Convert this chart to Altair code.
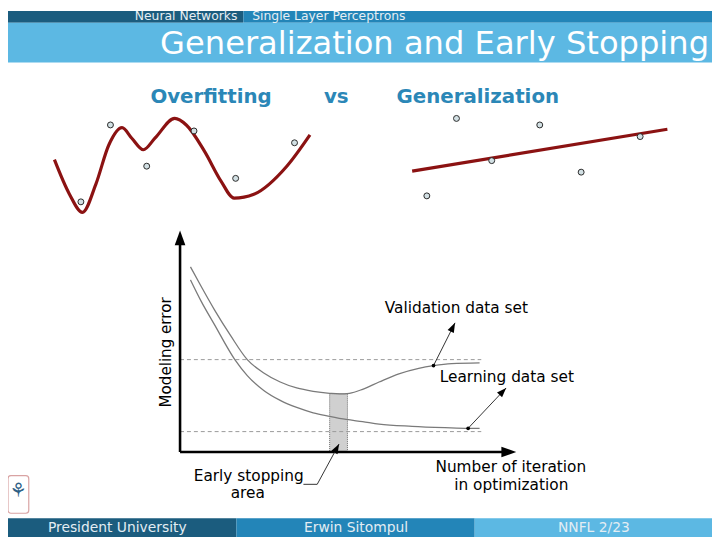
import altair as alt
import pandas as pd

# ---------------- data ----------------
# Overfitting panel (arbitrary units 0..10)
over_pts_x = [1.22, 2.37, 3.78, 5.62, 7.24, 9.53]
over_pts_y = [1.27, 8.34, 4.55, 7.79, 3.43, 6.70]
over_fit_x = [0.19, 0.77, 1.28, 1.80, 2.31, 2.82, 3.20, 3.65, 4.10, 4.87, 5.32, 6.03, 6.67, 7.18, 7.95, 9.23, 10.13]
over_fit_y = [5.15, 2.00, 0.30, 2.88, 6.52, 8.09, 7.12, 6.06, 7.12, 8.94, 8.34, 5.91, 3.18, 1.61, 1.97, 4.55, 7.43]

# Generalization panel
gen_pts_x = [0.80, 1.91, 3.23, 5.03, 6.58, 8.79]
gen_pts_y = [1.82, 8.94, 5.06, 8.34, 4.00, 7.27]
gen_fit_x = [0.25, 9.81]
gen_fit_y = [4.09, 7.94]

# Early stopping diagram (iteration 0..100, error 0..100)
iter_val = [3.1, 6.3, 10.2, 15.1, 20.0, 24.9, 29.8, 34.7, 39.6, 44.5, 47.4, 50.4, 54.3, 59.2, 65.1, 71.0, 75.4, 80.8, 89.1]
val_err = [83.6, 74.7, 64.3, 52.4, 41.7, 35.7, 31.6, 28.9, 27.4, 26.5, 26.2, 26.5, 28.3, 31.6, 35.3, 37.8, 39.0, 39.9, 40.2]
iter_learn = [3.1, 6.3, 10.2, 16.3, 20.0, 24.9, 29.8, 34.7, 39.6, 44.5, 49.4, 54.3, 59.2, 69.0, 78.8, 85.7, 89.1]
learn_err = [77.7, 68.0, 57.6, 41.7, 34.5, 27.8, 23.3, 20.1, 17.7, 16.1, 14.7, 13.7, 12.6, 11.6, 11.0, 10.7, 10.7]
val_level = 41.7
learn_level = 9.2
early_stop = [44.5, 49.8]
early_stop_top = 26.3

# ---------------- helpers ----------------
FONT = "DejaVu Sans"
one = pd.DataFrame({"k": [0]})

DARK = "#1b5c7e"
MID = "#2385b8"
LIGHT = "#5cb8e3"
RED = "#8b1212"


def scl(domain, rng):
    return alt.Scale(domain=domain, range=rng, nice=False, zero=False)


MX, MY = scl([0, 100], [174, 514]), scl([0, 100], [446, 222])
LX, LY = scl([0, 10], [42, 302]), scl([0, 10], [207, 97])
RX, RY = scl([0, 10], [402, 672]), scl([0, 10], [207, 97])


def box(x, x2, y, y2, color, **kw):
    return alt.Chart(one).mark_rect(color=color, **kw).encode(
        x=alt.value(x), x2=alt.value(x2), y=alt.value(y), y2=alt.value(y2))


def label(text, x, y, size, color="black", align="center", baseline="middle",
          weight="normal", angle=0):
    mk = dict(text=text, align=align, baseline=baseline, fontSize=size,
              font=FONT, color=color, fontWeight=weight)
    if angle:
        mk["angle"] = angle
    return alt.Chart(one).mark_text(**mk).encode(x=alt.value(x), y=alt.value(y))


def XD(v, s):
    return alt.XDatum(v, scale=s, type="quantitative", axis=None)


def YD(v, s):
    return alt.YDatum(v, scale=s, type="quantitative", axis=None)


def seg(x, y, x2, y2, color="black", width=1.0, dash=None, XS=MX, YS=MY):
    mk = dict(color=color, strokeWidth=width)
    if dash:
        mk["strokeDash"] = dash
    return alt.Chart(one).mark_rule(**mk).encode(
        x=XD(x, XS), y=YD(y, YS), x2=alt.X2Datum(x2), y2=alt.Y2Datum(y2))


ARROW = "M0,0L-0.36,1L0.36,1Z"


def head(x, y, angle, size, XS=MX, YS=MY):
    mk = dict(shape=ARROW, filled=True, color="black", size=size, opacity=1)
    if angle:
        mk["angle"] = angle
    return alt.Chart(one).mark_point(**mk).encode(x=XD(x, XS), y=YD(y, YS))


def curve(xs, ys, XS, YS, color, width, interp="monotone"):
    df = pd.DataFrame({"x": xs, "y": ys})
    return alt.Chart(df).mark_line(color=color, strokeWidth=width, interpolate=interp).encode(
        x=alt.X("x:Q", scale=XS, axis=None), y=alt.Y("y:Q", scale=YS, axis=None))


def dots(xs, ys, XS, YS):
    df = pd.DataFrame({"x": xs, "y": ys})
    return alt.Chart(df).mark_circle(color="#d2e0e4", stroke="#2a2a2a", strokeWidth=1,
                                     opacity=1, size=36).encode(
        x=alt.X("x:Q", scale=XS, axis=None), y=alt.Y("y:Q", scale=YS, axis=None))


layers = []

# header / title / footer bars
layers += [
    box(0, 238, 0, 12, DARK),
    box(238, 712, 0, 12, MID),
    box(0, 712, 12, 52, LIGHT),
    box(0, 231, 513, 532, DARK),
    box(231, 472, 513, 532, MID),
    box(472, 712, 513, 532, LIGHT),
]
layers += [
    label("Neural Networks", 232, 9.5, 12.5, color="#e6eef3", align="right", baseline="alphabetic"),
    label("Single Layer Perceptrons", 247, 9.5, 12.5, color="#e6eef3", align="left", baseline="alphabetic"),
    label("Generalization and Early Stopping", 709, 44, 32.5, color="white", align="right", baseline="alphabetic"),
    label("President University", 110.5, 523, 14, color="#e3edf3"),
    label("Erwin Sitompul", 352, 523, 14, color="#e3edf3"),
    label("NNFL 2/23", 592.5, 523, 14, color="#e3edf3"),
]

# logo placeholder
layers += [
    box(0, 21, 470, 508, "white", stroke="#d9a3a3", strokeWidth=1.2, cornerRadius=3),
    label("⚘", 10.5, 486, 20, color="#2e5f86"),
]

# subtitle texts
layers += [
    label("Overfitting", 144, 93, 20, color="#2b87b7", align="left", baseline="alphabetic", weight="bold"),
    label("vs", 332, 93, 20, color="#2b87b7", align="center", baseline="alphabetic", weight="bold"),
    label("Generalization", 393, 93, 20, color="#2b87b7", align="left", baseline="alphabetic", weight="bold"),
]

# small panels
layers += [
    curve(over_fit_x, over_fit_y, LX, LY, RED, 3.2),
    dots(over_pts_x, over_pts_y, LX, LY),
    curve(gen_fit_x, gen_fit_y, RX, RY, RED, 3.2, interp="linear"),
    dots(gen_pts_x, gen_pts_y, RX, RY),
]

# main diagram
band = alt.Chart(one).mark_rect(fill="#d0d0d0", stroke="#6e6e6e", strokeWidth=1,
                                strokeDash=[1, 1]).encode(
    x=XD(early_stop[0], MX), x2=alt.X2Datum(early_stop[1]),
    y=YD(0, MY), y2=alt.Y2Datum(early_stop_top))
layers += [
    band,
    seg(0, val_level, 89.6, val_level, color="#9a9a9a", width=1, dash=[4, 3]),
    seg(0, learn_level, 89.6, learn_level, color="#9a9a9a", width=1, dash=[4, 3]),
    curve(iter_val, val_err, MX, MY, "#7a7a7a", 1.3),
    curve(iter_learn, learn_err, MX, MY, "#7a7a7a", 1.3),
    # axes with arrows
    seg(0, 0, 0, 96, width=2.6),
    seg(0, 0, 96, 0, width=2.6),
    head(0, 100, 0, 900),
    head(100, 0, 90, 900),
    # annotation arrows
    seg(75.4, 39.0, 81.8, 58.3, color="#333333", width=1),
    head(81.8, 58.3, 26.6, 380),
    seg(85.7, 10.7, 97.0, 28.9, color="#333333", width=1),
    head(97.0, 28.9, 43.3, 380),
    seg(36.7, -14.6, 40.8, -14.6, color="#333333", width=1),
    seg(40.8, -14.6, 47.3, 3.6, color="#333333", width=1),
    head(47.3, 3.6, 28.4, 380),
]
pt = pd.DataFrame({"x": [75.4, 85.7], "y": [39.0, 10.7]})
layers.append(alt.Chart(pt).mark_circle(color="black", size=14, opacity=1).encode(
    x=alt.X("x:Q", scale=MX, axis=None), y=alt.Y("y:Q", scale=MY, axis=None)))

layers += [
    label("Modeling error", 160.3, 345.3, 15.3, angle=270),
    label("Validation data set", 453.5, 300.3, 15.5),
    label("Learning data set", 504.5, 370.3, 15.5),
    label("Number of iteration", 508.5, 461, 15.5),
    label("in optimization", 509, 479, 15.5),
    label("Early stopping", 243.5, 470.3, 15.5),
    label("area", 242.5, 488, 15.5),
]

chart = alt.layer(*layers).resolve_scale(x="independent", y="independent").properties(
    width=712, height=532, padding=0, background="white",
    autosize=alt.AutoSizeParams(type="none"),
).configure_view(strokeWidth=0)

chart.save("out.html", embed_options={"renderer": "svg", "actions": False})
